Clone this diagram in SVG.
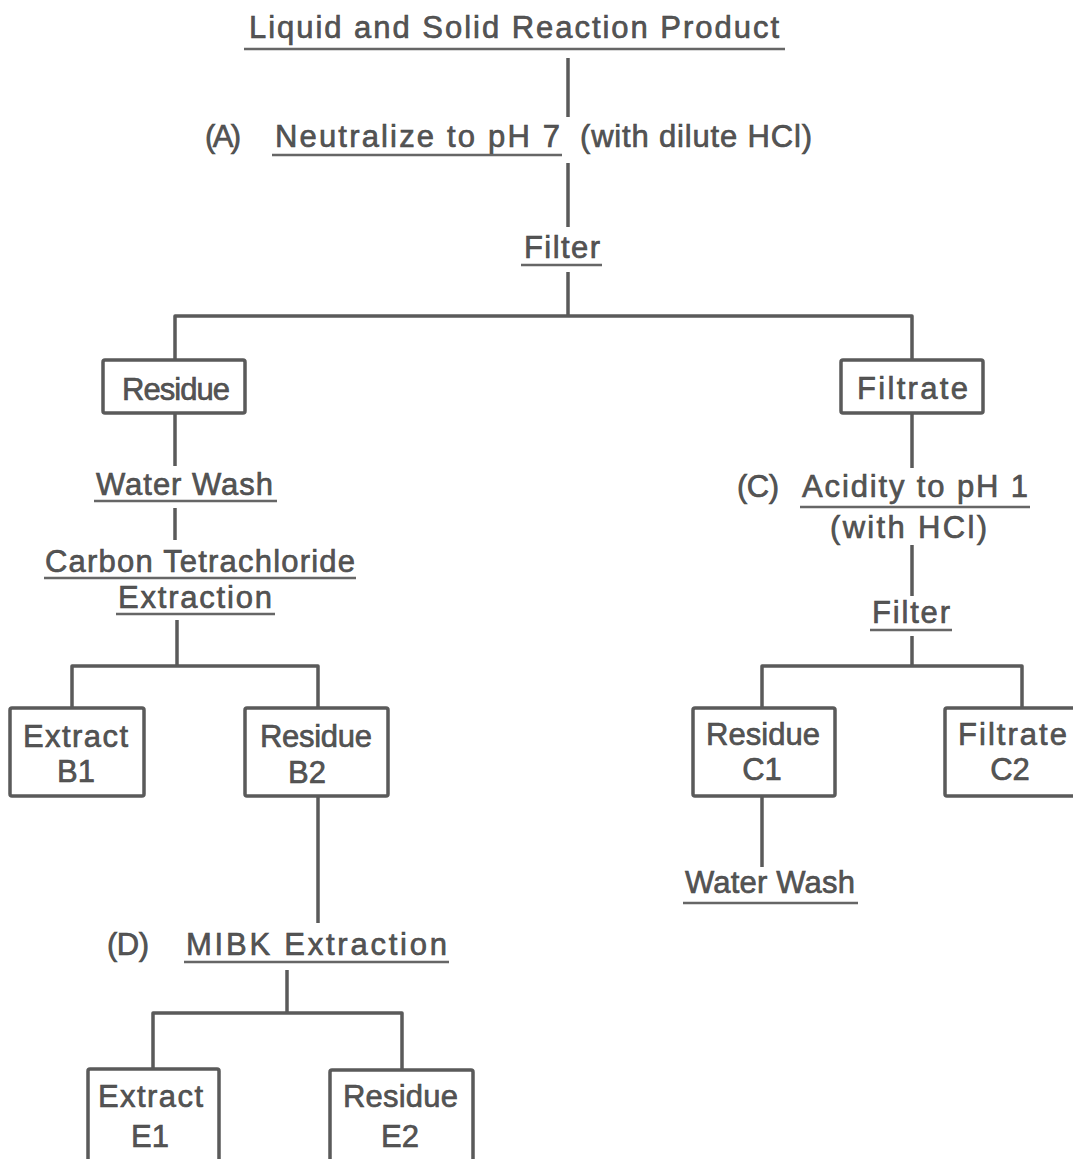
<svg xmlns="http://www.w3.org/2000/svg" width="1073" height="1159" viewBox="0 0 1073 1159">
<style>
.t{font-family:"Liberation Sans",Arial,sans-serif;font-size:31px;fill:#555;stroke:#444;stroke-width:0.6}
.ln{stroke:#5a5a5a;stroke-width:3.5;fill:none;stroke-linejoin:round}
.bx{fill:#fff;stroke:#5a5a5a;stroke-width:3.5}
.ul{stroke:#666;stroke-width:2.5}
</style>
<rect width="1073" height="1159" fill="#fff"/>
<g id="connectors">
<path class="ln" d="M568,58 V117"/>
<path class="ln" d="M568,163 V227"/>
<path class="ln" d="M568,272 V316"/>
<path class="ln" d="M175,360 V316 H912 V360"/>
<path class="ln" d="M175,413 V466"/>
<path class="ln" d="M175,508 V540"/>
<path class="ln" d="M177,620 V666"/>
<path class="ln" d="M72,708 V666 H318 V708"/>
<path class="ln" d="M318,796 V923"/>
<path class="ln" d="M287,970 V1013"/>
<path class="ln" d="M153,1069 V1013 H402 V1070"/>
<path class="ln" d="M912,413 V468"/>
<path class="ln" d="M912,545 V596"/>
<path class="ln" d="M912,636 V666"/>
<path class="ln" d="M762,708 V666 H1022 V708"/>
<path class="ln" d="M762,796 V867"/>
</g>
<g id="n-product">
<text class="t" x="249" y="38" textLength="530" lengthAdjust="spacing">Liquid and Solid Reaction Product</text>
<line class="ul" x1="244" y1="49" x2="785" y2="49"/>
</g>
<g id="n-neutralize">
<text class="t" x="205" y="147" textLength="36" lengthAdjust="spacing">(A)</text>
<text class="t" x="275" y="147" textLength="285" lengthAdjust="spacing">Neutralize to pH 7</text>
<text class="t" x="580" y="147" textLength="232" lengthAdjust="spacing">(with dilute HCl)</text>
<line class="ul" x1="272" y1="155" x2="562" y2="155"/>
</g>
<g id="n-filter1">
<text class="t" x="524" y="258" textLength="76" lengthAdjust="spacing">Filter</text>
<line class="ul" x1="521" y1="265" x2="602" y2="265"/>
</g>
<g id="n-residue">
<rect class="bx" x="103" y="360" width="142" height="53" rx="2"/>
<text class="t" x="122" y="400" textLength="108" lengthAdjust="spacing">Residue</text>
</g>
<g id="n-filtrate">
<rect class="bx" x="841" y="360" width="142" height="53" rx="2"/>
<text class="t" x="857" y="399" textLength="111" lengthAdjust="spacing">Filtrate</text>
</g>
<g id="n-waterwash1">
<text class="t" x="96" y="495" textLength="177" lengthAdjust="spacing">Water Wash</text>
<line class="ul" x1="94" y1="501" x2="277" y2="501"/>
</g>
<g id="n-ccl4">
<text class="t" x="45" y="572" textLength="310" lengthAdjust="spacing">Carbon Tetrachloride</text>
<line class="ul" x1="44" y1="578" x2="356" y2="578"/>
<text class="t" x="118" y="608" textLength="154" lengthAdjust="spacing">Extraction</text>
<line class="ul" x1="116" y1="614" x2="275" y2="614"/>
</g>
<g id="n-b1">
<rect class="bx" x="10" y="708" width="134" height="88" rx="2"/>
<text class="t" x="23" y="747" textLength="105" lengthAdjust="spacing">Extract</text>
<text class="t" x="76" y="782" text-anchor="middle">B1</text>
</g>
<g id="n-b2">
<rect class="bx" x="245" y="708" width="143" height="88" rx="2"/>
<text class="t" x="260" y="747" textLength="112" lengthAdjust="spacing">Residue</text>
<text class="t" x="307" y="783" text-anchor="middle">B2</text>
</g>
<g id="n-mibk">
<text class="t" x="107" y="955" textLength="42" lengthAdjust="spacing">(D)</text>
<text class="t" x="186" y="955" textLength="261" lengthAdjust="spacing">MIBK Extraction</text>
<line class="ul" x1="184" y1="962" x2="449" y2="962"/>
</g>
<g id="n-e1">
<rect class="bx" x="88" y="1069" width="131" height="110" rx="2"/>
<text class="t" x="98" y="1107" textLength="105" lengthAdjust="spacing">Extract</text>
<text class="t" x="150" y="1147" text-anchor="middle">E1</text>
</g>
<g id="n-e2">
<rect class="bx" x="330" y="1070" width="143" height="110" rx="2"/>
<text class="t" x="343" y="1107" textLength="115" lengthAdjust="spacing">Residue</text>
<text class="t" x="400" y="1147" text-anchor="middle">E2</text>
</g>
<g id="n-acidify">
<text class="t" x="737" y="497" textLength="42" lengthAdjust="spacing">(C)</text>
<text class="t" x="802" y="497" textLength="226" lengthAdjust="spacing">Acidity to pH 1</text>
<line class="ul" x1="800" y1="507" x2="1030" y2="507"/>
<text class="t" x="830" y="538" textLength="157" lengthAdjust="spacing">(with HCl)</text>
</g>
<g id="n-filter2">
<text class="t" x="872" y="623" textLength="78" lengthAdjust="spacing">Filter</text>
<line class="ul" x1="870" y1="630" x2="952" y2="630"/>
</g>
<g id="n-c1">
<rect class="bx" x="693" y="708" width="142" height="88" rx="2"/>
<text class="t" x="706" y="745" textLength="114" lengthAdjust="spacing">Residue</text>
<text class="t" x="762" y="780" text-anchor="middle">C1</text>
</g>
<g id="n-c2">
<rect class="bx" x="945" y="708" width="140" height="88" rx="2"/>
<text class="t" x="958" y="745" textLength="109" lengthAdjust="spacing">Filtrate</text>
<text class="t" x="1010" y="780" text-anchor="middle">C2</text>
</g>
<g id="n-waterwash2">
<text class="t" x="685" y="893" textLength="170" lengthAdjust="spacing">Water Wash</text>
<line class="ul" x1="683" y1="903" x2="858" y2="903"/>
</g>
</svg>
